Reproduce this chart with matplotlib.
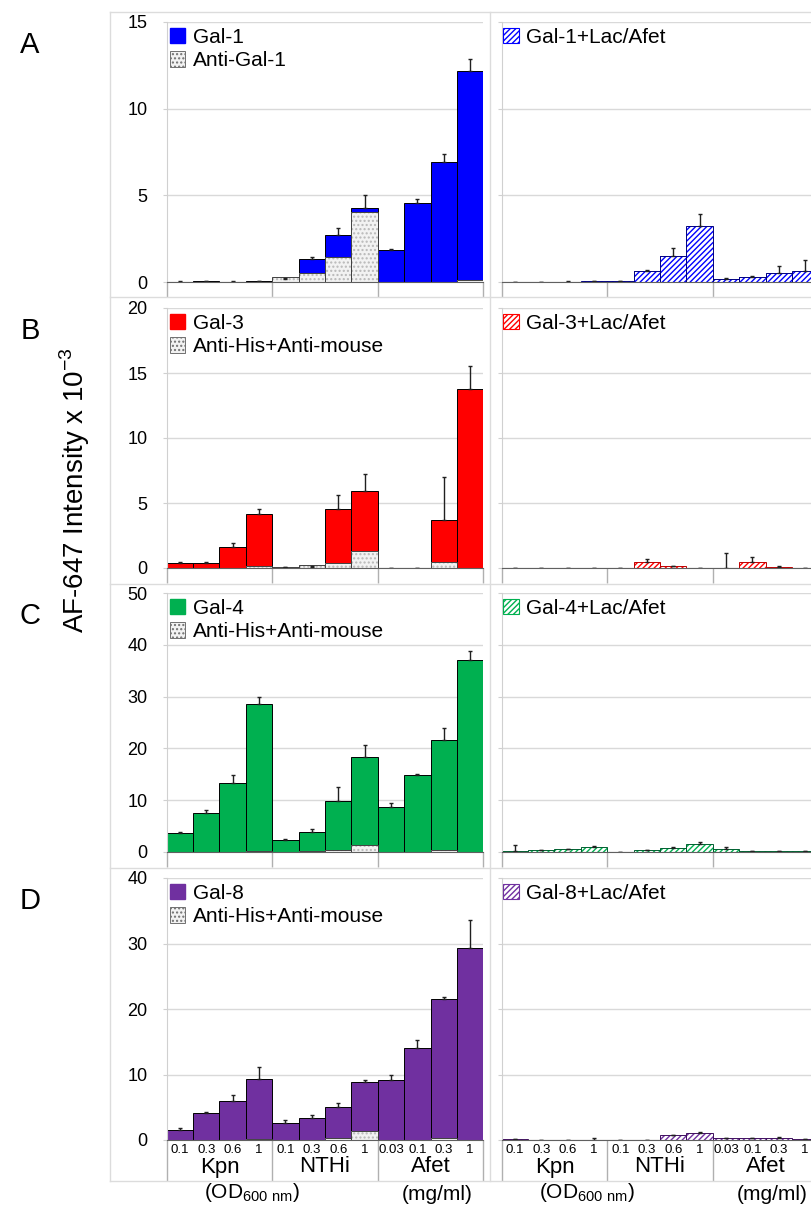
import numpy as np
import matplotlib.pyplot as plt
from matplotlib.patches import Patch
from matplotlib.lines import Line2D

plt.rcParams['font.family'] = ['Liberation Sans', 'DejaVu Sans']
plt.rcParams['mathtext.fontset'] = 'custom'
plt.rcParams['mathtext.rm'] = 'Liberation Sans'
plt.rcParams['hatch.linewidth'] = 1.0

# x axis categories
conc_labels = ['0.1', '0.3', '0.6', '1', '0.1', '0.3', '0.6', '1', '0.03', '0.1', '0.3', '1']
groups = ['Kpn', 'NTHi', 'Afet']

# Panel A - Gal-1
gal1 = [0.02, 0.03, 0.02, 0.04, 0.2, 1.31, 2.69, 4.27, 1.87, 4.58, 6.92, 12.18]
gal1_err = [0.02, 0.02, 0.02, 0.03, 0.03, 0.12, 0.45, 0.73, 0.05, 0.19, 0.44, 0.67]
anti_gal1 = [0, 0, 0, 0, 0.28, 0.52, 1.44, 4.02, 0, 0, 0, 0.1]
gal1_lac = [0.0, 0.0, 0.02, 0.05, 0.05, 0.62, 1.52, 3.23, 0.19, 0.27, 0.5, 0.63]
gal1_lac_err = [0, 0, 0.02, 0.03, 0.03, 0.1, 0.42, 0.71, 0.05, 0.1, 0.42, 0.63]

# Panel B - Gal-3
gal3 = [0.36, 0.41, 1.64, 4.15, 0.05, 0.1, 4.57, 5.9, 0, 0, 3.71, 13.74]
gal3_err = [0.13, 0.05, 0.3, 0.38, 0, 0.05, 1.07, 1.35, 0, 0, 3.26, 1.77]
anti_his3 = [0, 0, 0, 0.18, 0.1, 0.2, 0.38, 1.33, 0, 0, 0.43, 0]
gal3_lac = [0, 0, 0, 0, 0, 0.5, 0.13, 0.0, 0.02, 0.5, 0.05, 0]
gal3_lac_err = [0, 0, 0, 0, 0, 0.18, 0.05, 0, 1.1, 0.38, 0.1, 0]

# Panel C - Gal-4
gal4 = [3.6, 7.5, 13.3, 28.5, 2.3, 3.9, 9.8, 18.3, 8.6, 14.8, 21.6, 37.0]
gal4_err = [0.25, 0.58, 1.55, 1.35, 0.26, 0.5, 2.7, 2.3, 0.77, 0.3, 2.3, 1.86]
anti_his4 = [0, 0, 0, 0.2, 0, 0.15, 0.3, 1.35, 0, 0, 0.3, 0]
gal4_lac = [0.2, 0.3, 0.5, 0.97, 0.05, 0.3, 0.84, 1.55, 0.65, 0.2, 0.1, 0.2]
gal4_lac_err = [1.1, 0.05, 0.1, 0.2, 0, 0.1, 0.15, 0.4, 0.25, 0.05, 0.1, 0.05]

# Panel D - Gal-8
gal8 = [1.54, 4.1, 6.0, 9.3, 2.6, 3.4, 5.1, 8.8, 9.2, 14.0, 21.5, 29.3]
gal8_err = [0.25, 0.15, 0.8, 1.85, 0.5, 0.35, 0.55, 0.3, 0.67, 1.2, 0.35, 4.3]
anti_his8 = [0, 0, 0, 0.2, 0, 0, 0.3, 1.3, 0, 0, 0.3, 0]
gal8_lac = [0.1, 0.0, 0.0, 0.05, 0.0, 0.05, 0.72, 1.0, 0.25, 0.25, 0.3, 0.1]
gal8_lac_err = [0, 0, 0, 0.2, 0, 0, 0.1, 0.25, 0.05, 0.1, 0.1, 0]

panels = [
    dict(letter='A', top=22, zero=282, ymax=15, step=5, color='#0000FF', dark='#000080',
         gal=gal1, err=gal1_err, anti=anti_gal1, name='Gal-1', anti_name='Anti-Gal-1',
         lac=gal1_lac, lac_err=gal1_lac_err),
    dict(letter='B', top=308, zero=568, ymax=20, step=5, color='#FF0000', dark='#C00000',
         gal=gal3, err=gal3_err, anti=anti_his3, name='Gal-3', anti_name='Anti-His+Anti-mouse',
         lac=gal3_lac, lac_err=gal3_lac_err),
    dict(letter='C', top=593, zero=852, ymax=50, step=10, color='#00B050', dark='#006030',
         gal=gal4, err=gal4_err, anti=anti_his4, name='Gal-4', anti_name='Anti-His+Anti-mouse',
         lac=gal4_lac, lac_err=gal4_lac_err),
    dict(letter='D', top=878, zero=1140, ymax=40, step=10, color='#7030A0', dark='#40105F',
         gal=gal8, err=gal8_err, anti=anti_his8, name='Gal-8', anti_name='Anti-His+Anti-mouse',
         lac=gal8_lac, lac_err=gal8_lac_err),
]

W, H = 812, 1205
fig = plt.figure(figsize=(W / 100, H / 100), dpi=100)

def add_ax(x0, x1, top, zero):
    return fig.add_axes([x0 / W, 1 - zero / H, (x1 - x0) / W, (zero - top) / H])

def fig_line(x0, y0, x1, y1):
    fig.add_artist(Line2D([x0 / W, x1 / W], [1 - y0 / H, 1 - y1 / H], transform=fig.transFigure,
                          color='#dcdcdc', lw=1))

# light frame of the chart areas
for y in [12, 297, 584, 868, 1181]:
    fig_line(110, y, 812, y)
fig_line(110, 12, 110, 1181)
fig_line(490, 12, 490, 1181)

x = np.arange(12)
zeros = np.zeros(12)
px = 0.72  # points per pixel at 100 dpi

for i, p in enumerate(panels):
    last = i == len(panels) - 1
    axl = add_ax(166.7, 483.3, p['top'], p['zero'])
    axr = add_ax(501.7, 818.3, p['top'], p['zero'])
    hgt = p['zero'] - p['top']
    for ax in (axl, axr):
        ax.set_xlim(-0.5, 11.5)
        ax.set_ylim(0, p['ymax'])
        ax.set_yticks(np.arange(0, p['ymax'] + 0.1, p['step']))
        ax.grid(axis='y', color='#d9d9d9', lw=1)
        ax.set_axisbelow(True)
        ax.spines['top'].set_visible(False)
        ax.spines['right'].set_visible(False)
        ax.spines['left'].set_color('#d0d0d0')
        ax.spines['bottom'].set_color('#606060')
        ax.set_xticks([-0.5, 3.5, 7.5, 11.5])
        ax.set_xticklabels([])
        ax.tick_params(axis='x', which='major', length=(41 if last else 15) * px,
                       color='#b0b0b0', width=1)
        ax.tick_params(axis='y', length=3, color='#d0d0d0', labelsize=13, pad=11)
        if last:
            ax.set_xticks(x, minor=True)
            ax.set_xticklabels(conc_labels, minor=True, fontsize=9.5)
            ax.tick_params(axis='x', which='minor', length=0, pad=3)
            for gi, g in enumerate(groups):
                ax.annotate(g, xy=(gi * 4 + 1.5, 0), xycoords=('data', 'axes fraction'),
                            xytext=(0, -27 * px), textcoords='offset points',
                            ha='center', va='center', fontsize=16)
            ax.annotate(r'(OD$_{\mathrm{600\ nm}}$)', xy=(2.75, 0),
                        xycoords=('data', 'axes fraction'), xytext=(0, -53 * px),
                        textcoords='offset points', ha='center', va='center', fontsize=15)
            ax.annotate('(mg/ml)', xy=(9.75, 0), xycoords=('data', 'axes fraction'),
                        xytext=(0, -55 * px), textcoords='offset points',
                        ha='center', va='center', fontsize=15)
    axr.set_yticklabels([])

    # left: galectin with antibody control overlapped in front
    axl.bar(x, p['gal'], width=1, color=p['color'], edgecolor='black', lw=0.7)
    axl.bar(x, p['anti'], width=1, facecolor='#f2f2f2', edgecolor='#b8b8b8', hatch='....', lw=0)
    axl.bar(x, p['anti'], width=1, fill=False, edgecolor='#404040', lw=0.7)
    axl.errorbar(x, p['gal'], yerr=[zeros, p['err']], fmt='none', ecolor='#202020',
                 elinewidth=1, capsize=1.5)

    # right: inhibited, hatched
    axr.bar(x, p['lac'], width=1, facecolor='white', edgecolor=p['color'], hatch='//////', lw=0)
    axr.bar(x, p['lac'], width=1, fill=False, edgecolor=p['dark'], lw=0.7)
    axr.errorbar(x, p['lac'], yerr=[zeros, p['lac_err']], fmt='none', ecolor='#202020',
                 elinewidth=1, capsize=1.5)

    leg_kw = dict(loc='upper left', frameon=False, fontsize=15, borderaxespad=0, borderpad=0,
                  handlelength=0.75, handleheight=0.75, handletextpad=0.35, labelspacing=0.2)
    axl.legend(handles=[Patch(facecolor=p['color'], edgecolor=p['color']),
                        Patch(facecolor='#f2f2f2', edgecolor='#707070', hatch='....', lw=0.7)],
               labels=[p['name'], p['anti_name']],
               bbox_to_anchor=(0.01, 1 - 6 / hgt), **leg_kw)
    axr.legend(handles=[Patch(facecolor='white', edgecolor=p['color'], hatch='//////', lw=0.8)],
               labels=[p['name'] + '+Lac/Afet'],
               bbox_to_anchor=(0.004, 1 - 6 / hgt), **leg_kw)

    fig.text(30 / W, 1 - (p['top'] + 23) / H, p['letter'], fontsize=21, ha='center', va='center')

fig.text(75 / W, 1 - 490 / H, 'AF-647 Intensity x 10$^{-3}$', rotation=90, fontsize=20,
         ha='center', va='center')

fig.savefig('out.png', dpi=100)
